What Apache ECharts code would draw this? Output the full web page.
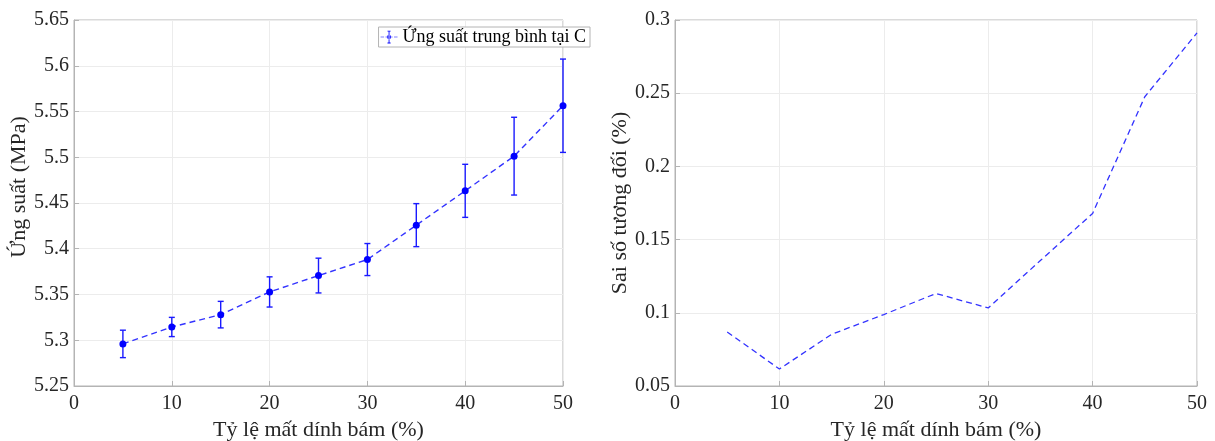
<!DOCTYPE html>
<html>
<head>
<meta charset="utf-8">
<script src="https://cdn.jsdelivr.net/npm/echarts@6/dist/echarts.min.js"></script>
<style>
  html, body { margin: 0; padding: 0; background: #fff; }
  #chart { width: 1215px; height: 441px; }
</style>
</head>
<body>
<div id="chart"></div>
<script>
// Bond-loss ratio (%) on the horizontal axis of both panels
const lossRatio = [5, 10, 15, 20, 25, 30, 35, 40, 45, 50];
// Mean stress at C (MPa) and half-width of its error bar
const meanStress = [5.296, 5.3145, 5.328, 5.3528, 5.3707, 5.3882, 5.4258, 5.4633, 5.5012, 5.5563];
const stressErr = [0.015, 0.0105, 0.0145, 0.0165, 0.019, 0.0175, 0.0235, 0.029, 0.0425, 0.051];
// Relative error (%)
const relError = [0.0869, 0.0616, 0.0853, 0.0988, 0.1132, 0.1033, 0.1357, 0.1679, 0.2476, 0.2912];

const xTicks = [0, 10, 20, 30, 40, 50];
const stressTicks = [5.25, 5.3, 5.35, 5.4, 5.45, 5.5, 5.55, 5.6, 5.65];
const relTicks = [0.05, 0.1, 0.15, 0.2, 0.25, 0.3];

const legendName = 'Ứng suất trung bình tại C';
const xTitle = 'Tỷ lệ mất dính bám (%)';
const leftYTitle = 'Ứng suất (MPa)';
const rightYTitle = 'Sai số tương đối (%)';

const FONT = '"Liberation Serif", "Times New Roman", serif';
const TXT = '#262626';
const BLUE = '#0000ff';
const FRAME = '#b4b4b4';

const fmt = v => String(parseFloat(v.toFixed(2)));

function xAxisCfg(gridIndex) {
  return {
    type: 'value', gridIndex,
    min: xTicks[0], max: xTicks[xTicks.length - 1], interval: xTicks[1] - xTicks[0],
    name: xTitle, nameLocation: 'middle', nameGap: 33,
    nameTextStyle: { fontFamily: FONT, fontSize: 22, color: TXT },
    axisLine: { show: true, lineStyle: { color: FRAME, width: 1 } },
    axisTick: { show: true, inside: true, length: 5, lineStyle: { color: FRAME } },
    axisLabel: { fontFamily: FONT, fontSize: 20, color: TXT, margin: 8 },
    splitLine: { show: true, lineStyle: { color: '#ececec', width: 1 } }
  };
}

function yAxisCfg(gridIndex, ticks, title, gap, shift) {
  return {
    type: 'value', gridIndex,
    min: ticks[0], max: ticks[ticks.length - 1],
    interval: Math.round((ticks[1] - ticks[0]) * 100) / 100,
    name: title, nameLocation: 'middle', nameGap: gap,
    nameTextStyle: { fontFamily: FONT, fontSize: 22, color: TXT, padding: [0, 0, 0, shift] },
    axisLine: { show: true, lineStyle: { color: FRAME, width: 1 } },
    axisTick: { show: true, inside: true, length: 5, lineStyle: { color: FRAME } },
    axisLabel: { fontFamily: FONT, fontSize: 20, color: TXT, margin: 5, formatter: fmt },
    splitLine: { show: true, lineStyle: { color: '#ececec', width: 1 } }
  };
}

// Legend symbol: dashed line crossed by an error bar with a dot
const legendIcon = 'path://M0,8.5h5v1h-5z M7,8.5h3v1h-3z M14,8.5h3v1h-3z M19,8.5h5v1h-5z ' +
  'M11.4,0h1.2v18h-1.2z M9.8,0h4.4v1.2h-4.4z M9.8,16.8h4.4v1.2h-4.4z ' +
  'M9,9a3,3 0 1,0 6,0a3,3 0 1,0 -6,0z';

const chart = echarts.init(document.getElementById('chart'), null, { renderer: 'canvas' });

chart.setOption({
  backgroundColor: '#ffffff',
  animation: false,
  grid: [
    { left: 74, top: 20, width: 489, height: 366, show: true, borderColor: FRAME, borderWidth: 1,
      containLabel: false, outerBoundsMode: 'none' },
    { left: 675, top: 20, width: 522, height: 366, show: true, borderColor: FRAME, borderWidth: 1,
      containLabel: false, outerBoundsMode: 'none' }
  ],
  xAxis: [xAxisCfg(0), xAxisCfg(1)],
  yAxis: [
    yAxisCfg(0, stressTicks, leftYTitle, 36, 32),
    yAxisCfg(1, relTicks, rightYTitle, 37, 0)
  ],
  legend: {
    data: [{ name: legendName, icon: legendIcon }],
    right: 625, top: 27,
    itemWidth: 17, itemHeight: 16, itemGap: 4,
    padding: [1, 4, 1, 2],
    borderColor: '#b4b4b4', borderWidth: 1, borderRadius: 0,
    backgroundColor: '#ffffff',
    textStyle: { fontFamily: FONT, fontSize: 18, color: '#000' },
    selectedMode: false
  },
  series: [
    {
      name: legendName,
      type: 'line',
      xAxisIndex: 0, yAxisIndex: 0,
      data: lossRatio.map((x, i) => [x, meanStress[i]]),
      symbol: 'circle', symbolSize: 7,
      itemStyle: { color: BLUE },
      lineStyle: { color: '#3333ff', width: 1.4, type: [6, 4] },
      z: 3
    },
    {
      name: 'errorbars',
      type: 'custom',
      xAxisIndex: 0, yAxisIndex: 0,
      data: lossRatio.map((x, i) => [x, meanStress[i] - stressErr[i], meanStress[i] + stressErr[i]]),
      renderItem: function (params, api) {
        const x = api.value(0);
        const lo = api.coord([x, api.value(1)]);
        const hi = api.coord([x, api.value(2)]);
        const cap = 3;
        const style = { stroke: '#1a1aff', lineWidth: 1.4, fill: null };
        return {
          type: 'group',
          children: [
            { type: 'line', shape: { x1: lo[0], y1: lo[1], x2: hi[0], y2: hi[1] }, style },
            { type: 'line', shape: { x1: lo[0] - cap, y1: lo[1], x2: lo[0] + cap, y2: lo[1] }, style },
            { type: 'line', shape: { x1: hi[0] - cap, y1: hi[1], x2: hi[0] + cap, y2: hi[1] }, style }
          ]
        };
      },
      z: 2
    },
    {
      name: 'relerror',
      type: 'line',
      xAxisIndex: 1, yAxisIndex: 1,
      data: lossRatio.map((x, i) => [x, relError[i]]),
      symbol: 'none',
      lineStyle: { color: '#3333ff', width: 1.3, type: [6, 4] }
    }
  ]
});
</script>
</body>
</html>
